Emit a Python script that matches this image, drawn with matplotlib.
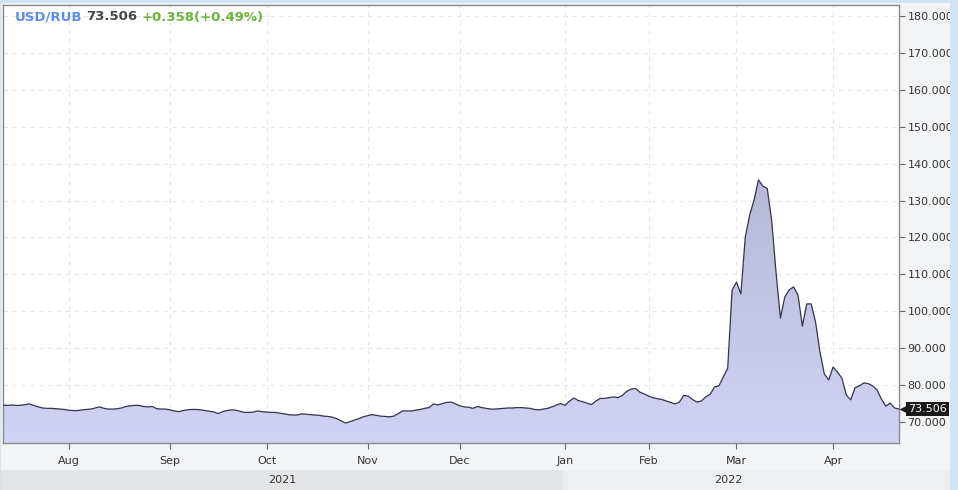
import numpy as np
import matplotlib
matplotlib.use("Agg")
import matplotlib.pyplot as plt
import matplotlib.transforms as mtransforms
from matplotlib.colors import LinearSegmentedColormap
from matplotlib.patches import Rectangle

# ---------------- data ----------------
# USD/RUB close, one value per trading session (mid-Jul 2021 .. late Apr 2022)
rates = [
    74.6, 74.5, 74.6, 74.5, 74.5, 74.7, 74.9, 74.5, 74.1, 73.8, 73.7, 73.7, 73.6, 73.5, 73.4, 73.2,
    73.1, 73.1, 73.3, 73.4, 73.5, 73.8, 74.1, 73.7, 73.5, 73.5, 73.6, 73.8, 74.2, 74.4, 74.5, 74.5,
    74.2, 74.1, 74.2, 73.6, 73.5, 73.5, 73.3,
    73.0, 72.8, 73.1, 73.3, 73.4, 73.4, 73.3, 73.1, 72.9, 72.7, 72.3, 72.8, 73.1, 73.3, 73.2, 72.9,
    72.6, 72.6, 72.7, 73.0, 72.8, 72.7, 72.6, 72.6, 72.4, 72.2, 72.0, 71.9, 71.9,
    72.2, 72.1, 72.0, 71.9, 71.8, 71.6, 71.5, 71.3, 70.9, 70.3, 69.7, 70.1, 70.5, 70.9, 71.4, 71.7,
    72.0, 71.8, 71.6, 71.5, 71.4, 71.6, 72.3, 73.0, 73.0, 73.0, 73.2, 73.4, 73.7, 73.9, 74.9, 74.6,
    75.0, 75.3, 75.4,
    74.9, 74.4, 74.1, 74.0, 73.7, 74.2, 73.9, 73.7, 73.5, 73.5, 73.6, 73.7, 73.8, 73.8, 73.9, 73.9,
    73.8, 73.7, 73.4, 73.3, 73.5, 73.7, 74.1, 74.6, 75.0, 74.5, 75.7, 76.5, 75.8, 75.5, 75.1, 74.7,
    75.7, 76.4, 76.4, 76.6, 76.8, 76.6, 77.2, 78.3, 78.9, 79.1, 78.1, 77.6, 77.0, 76.6, 76.3, 76.1,
    75.7, 75.3, 74.9, 75.4, 77.2, 77.0, 76.1, 75.4, 75.7, 76.8, 77.5, 79.5, 79.8, 82.2, 84.6,
    105.8, 107.9, 104.7, 120.1, 126.1, 130.1, 135.6, 133.9, 133.3, 124.7, 110.6, 98.2, 103.9, 105.8,
    106.6, 104.4, 96.0, 102.0, 102.0, 97.1, 89.0, 83.0, 81.4, 84.9, 83.5, 81.9, 77.3, 76.0, 79.3,
    79.8, 80.6, 80.4, 79.8, 78.7, 76.2, 74.3, 75.1, 73.8, 73.506,
]
# index of first session of each month
month_idx = [15, 38, 60, 83, 104, 128, 147, 167, 189]
month_labels = ["Aug", "Sep", "Oct", "Nov", "Dec", "Jan", "Feb", "Mar", "Apr"]
year_labels = ["2021", "2022"]
y_ticks = [70, 80, 90, 100, 110, 120, 130, 140, 150, 160, 170, 180]
pair = "USD/RUB"
last_txt = "73.506"
change_txt = "+0.358(+0.49%)"

x = np.arange(len(rates))
y = np.array(rates)

W, H = 958, 490
fig = plt.figure(figsize=(W / 100, H / 100), dpi=100)
fig.patch.set_facecolor("#d3e3f6")

# panel background
fig.patches.append(Rectangle((1 / W, 0), 949 / W, 1 - 3 / H, transform=fig.transFigure,
                             facecolor="#f3f4f6", edgecolor="none", zorder=-10))

L, R, T, B = 3, 899, 5, 443
ax = fig.add_axes([L / W, 1 - B / H, (R - L) / W, (B - T) / H])
ax.set_facecolor("white")

ymin, ymax = 64.31, 182.98
ax.set_xlim(0, len(rates) - 1)
ax.set_ylim(ymin, ymax)

# grid
for v in y_ticks:
    ax.axhline(v, color="#e6e6e6", lw=0.8, ls=(0, (4, 4)), zorder=1)
for m in month_idx:
    ax.axvline(m, color="#e6e6e6", lw=0.8, ls=(0, (4, 4)), zorder=1)

# gradient area
poly = ax.fill_between(x, y, ymin, color="none", lw=0, zorder=2)
cmap = LinearSegmentedColormap.from_list("g", ["#d2d2f6", "#a6a6c2"])
grad = np.linspace(0, 1, 256).reshape(-1, 1)
im = ax.imshow(grad, extent=[0, len(rates) - 1, ymin, ymax], origin="lower",
               aspect="auto", cmap=cmap, zorder=2, interpolation="bilinear")
im.set_clip_path(poly.get_paths()[0], transform=ax.transData)
ax.plot(x, y, color="#34344a", lw=0.9, zorder=3)

# axes styling
for s in ax.spines.values():
    s.set_color("#8a8a8a")
    s.set_linewidth(1.0)
ax.yaxis.tick_right()
ax.set_yticks(y_ticks)
ax.set_yticklabels([f"{v:.3f}" for v in y_ticks])
ax.tick_params(axis="y", length=4, width=0.8, color="#666666", pad=2,
               labelsize=8, labelcolor="#333333")
ax.set_xticks(month_idx)
ax.set_xticklabels(month_labels)
ax.tick_params(axis="x", length=4, width=0.8, color="#666666", pad=5,
               labelsize=8, labelcolor="#333333")

# last value marker
blend = mtransforms.blended_transform_factory(ax.transAxes, ax.transData)
ax.annotate(last_txt, xy=(1, rates[-1]), xycoords=blend, xytext=(9, 0),
            textcoords="offset pixels", ha="left", va="center", color="white",
            fontsize=8, zorder=20, annotation_clip=False,
            bbox=dict(boxstyle="square,pad=0.18", fc="#1a1a1a", ec="none"))
ax.plot([1.0], [rates[-1]], marker="<", ms=7, color="#1a1a1a", mec="none",
        transform=blend + mtransforms.ScaledTranslation(5 / 100, 0, fig.dpi_scale_trans),
        clip_on=False, zorder=20)

# year band
fig.patches.append(Rectangle((1 / W, 0), (563 - 1) / W, 20 / H, transform=fig.transFigure,
                             facecolor="#e4e5e7", edgecolor="none", zorder=-5))
fig.patches.append(Rectangle((563 / W, 0), (950 - 563) / W, 20 / H, transform=fig.transFigure,
                             facecolor="#eeeff1", edgecolor="none", zorder=-5))
fig.text(282 / W, 1 - 480 / H, year_labels[0], ha="center", va="center", fontsize=8, color="#333333")
fig.text(728 / W, 1 - 480 / H, year_labels[1], ha="center", va="center", fontsize=8, color="#333333")

# right blue strip (covers overflow of labels)
fig.patches.append(Rectangle((950 / W, 0), 8 / W, 1, transform=fig.transFigure,
                             facecolor="#d3e3f6", edgecolor="none", zorder=50))

# header
fig.canvas.draw()
r = fig.canvas.get_renderer()
xpos = 15
for txt, col in [(pair, "#5a8cf0"), (last_txt, "#444444"), (change_txt, "#6ab43c")]:
    t = fig.text(xpos / W, 1 - 17 / H, txt, ha="left", va="center", fontsize=9.5,
                 fontweight="bold", color=col)
    bb = t.get_window_extent(r)
    xpos += bb.width + 4

fig.savefig("out.png", dpi=100)
